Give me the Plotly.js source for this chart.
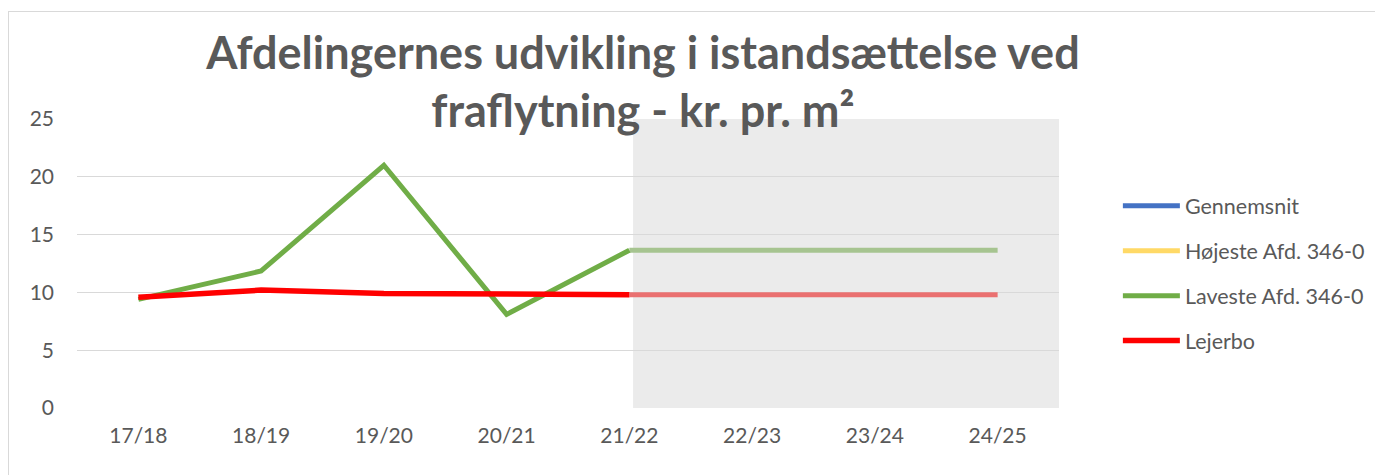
<!DOCTYPE html>
<html>
<head>
<meta charset="utf-8">
<script src="https://cdn.plot.ly/plotly-3.0.1.min.js"></script>
<style>
  html, body { margin: 0; padding: 0; background: #ffffff; overflow: hidden; }
  #frame { position: absolute; left: 8px; top: 11px; width: 1400px; height: 500px; border: 1px solid #d9d9d9; box-sizing: border-box; }
  #chart { position: absolute; left: 0; top: 0; width: 1375px; height: 475px; }
</style>
</head>
<body>
<div id="frame"></div>
<div id="chart"></div>
<script>
const categories = ['17/18', '18/19', '19/20', '20/21', '21/22', '22/23', '23/24', '24/25'];
const gennemsnit = [null, null, null, null, null, null, null, null];
const hoejeste = [null, null, null, null, null, null, null, null];
const laveste = [9.4, 11.85, 21.0, 8.1, 13.65, 13.65, 13.65, 13.65];
const lejerbo = [9.57, 10.2, 9.91, 9.83, 9.8, 9.8, 9.8, 9.8];
const seriesNames = ['Gennemsnit', 'Højeste Afd. 346-0', 'Laveste Afd. 346-0', 'Lejerbo'];
const forecastStart = '21/22';
const yTicks = [0, 5, 10, 15, 20, 25];

const fIdx = categories.indexOf(forecastStart);
const actual = arr => arr.map((v, i) => i <= fIdx ? v : null);
const forecast = arr => arr.map((v, i) => i >= fIdx ? v : null);

const FONT = 'Lato, "Open Sans", sans-serif';
const traces = [
  {x: categories, y: gennemsnit, name: seriesNames[0], legendgroup: 'g0', mode: 'lines', line: {color: '#4472C4', width: 5}},
  {x: categories, y: hoejeste, name: seriesNames[1], legendgroup: 'g1', mode: 'lines', line: {color: '#FFD966', width: 5}},
  {x: categories, y: forecast(laveste), name: seriesNames[2], legendgroup: 'g2', mode: 'lines', showlegend: false, line: {color: '#A6C490', width: 5}},
  {x: categories, y: forecast(lejerbo), name: seriesNames[3], legendgroup: 'g3', mode: 'lines', showlegend: false, line: {color: '#EA7070', width: 5}},
  {x: categories, y: actual(laveste), name: seriesNames[2], legendgroup: 'g2', mode: 'lines', line: {color: '#70AD47', width: 5}},
  {x: categories, y: actual(lejerbo), name: seriesNames[3], legendgroup: 'g3', mode: 'lines', line: {color: '#FF0000', width: 5.5}}
];

const layout = {
  width: 1375, height: 475,
  margin: {l: 77, r: 316, t: 119, b: 67},
  paper_bgcolor: 'rgba(0,0,0,0)',
  plot_bgcolor: 'rgba(0,0,0,0)',
  font: {family: FONT, color: '#595959', size: 19},
  title: {
    text: 'Afdelingernes udvikling i istandsættelse ved<br>fraflytning - kr. pr. m²',
    font: {family: FONT, size: 45, color: '#595959', weight: 'bold'},
    x: 0.4676, xanchor: 'center', xref: 'container',
    y: 0.855, yanchor: 'top', yref: 'container'
  },
  xaxis: {
    type: 'category', categoryorder: 'array', categoryarray: categories,
    range: [-0.5, categories.length - 0.5],
    showgrid: false, zeroline: false, showline: false, ticks: '',
    tickfont: {family: FONT, size: 21, color: '#595959'}, ticklabelstandoff: 13
  },
  yaxis: {
    range: [0, 25], tickvals: yTicks, showgrid: true, gridcolor: '#d9d9d9', gridwidth: 1.3,
    zeroline: false, showline: false, ticks: '',
    tickfont: {family: FONT, size: 21, color: '#595959'}, ticklabelstandoff: 22
  },
  shapes: [{
    type: 'rect', layer: 'below', xref: 'x', yref: 'paper',
    x0: fIdx + 0.03, x1: categories.length - 0.5, y0: 0, y1: 1,
    fillcolor: '#EBEBEB', line: {width: 0}
  }],
  legend: {
    xref: 'container', yref: 'container', x: 0.813, y: 0.61, xanchor: 'left', yanchor: 'top',
    font: {family: FONT, size: 21.5, color: '#595959'}, tracegroupgap: 14, itemwidth: 57,
    traceorder: 'grouped', bgcolor: 'rgba(0,0,0,0)'
  },
  showlegend: true
};

Plotly.newPlot('chart', traces, layout, {displayModeBar: false, staticPlot: true});
</script>
</body>
</html>
